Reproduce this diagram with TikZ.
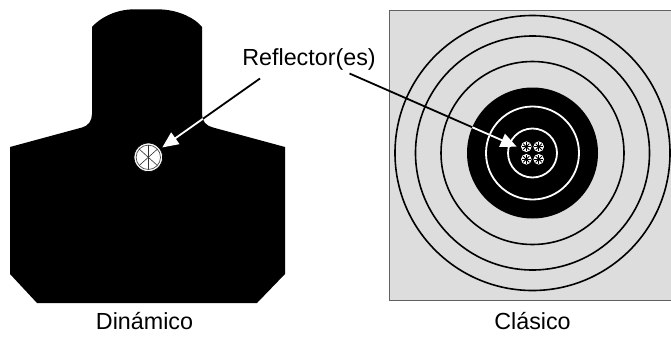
\documentclass[tikz,border=0pt]{standalone}
\usepackage{fontspec}
\setmainfont{Liberation Sans}
\usetikzlibrary{arrows.meta,calc}

\definecolor{paneGray}{gray}{0.865}
\definecolor{paneEdge}{gray}{0.38}

% outline of the dynamic (torso) target
\newcommand{\torsopath}{(92,27) .. controls (100,18) and (114,10.5) .. (130,9.5) -- (162,9.5)
  .. controls (179,10.5) and (195,18) .. (202,27) -- (202,114)
  .. controls (202,121) and (206,126) .. (213,127.5) -- (285,147) -- (285,274)
  -- (257,303) -- (37,303) -- (10,274) -- (10,147) -- (82,127.5)
  .. controls (88,126) and (92,121) .. (92,114) -- cycle}

\tikzset{
  lbl/.style={font=\fontsize{23.3}{27}\selectfont, inner sep=0pt, anchor=base},
  ptr/.style={line width=1.8pt},
  ptrhead/.style={-{Triangle[length=16pt,width=14pt]}},
  ring/.style={line width=1.6pt},
  wring/.style={line width=1.8pt, white},
}

\begin{document}
\begin{tikzpicture}[x=1pt, y=-1pt]
\useasboundingbox (0,0) rectangle (671,337);

% ---- left panel: dynamic target ----
\fill[black] \torsopath;

\node[circle, fill=white, draw=black, line width=0.7pt, minimum size=28.6pt,
      inner sep=0pt, outer sep=2.8pt] (refl) at (148.3,157.3) {};
\draw[gray!60!black, line width=0.7pt] (refl.center) circle[radius=12.2pt];
\foreach \a in {90,42,138} {
  \draw[gray!40!black, line width=0.6pt]
    ($(refl.center)+(\a:12pt)$) -- ($(refl.center)+(\a+180:12pt)$);
}

% ---- right panel: classic target ----
\fill[paneGray] (389.5,10) rectangle (671,300);
\draw[paneEdge, line width=0.9pt] (671.5,10) -- (389.5,10) -- (389.5,300) -- (671.5,300);

\coordinate (ctr) at (532.5,153);
\foreach \r in {137.5,117,91.5} {
  \draw[ring] (ctr) circle[radius=\r pt];
}
\fill[black] (ctr) circle[radius=65.5pt];
\draw[wring] (ctr) circle[radius=46.5pt];
\draw[wring] (ctr) circle[radius=24.5pt];

% four small reflectors in the centre
\foreach \dx/\dy in {-6.2/-6.3, 6.2/-6.3, -6.2/6.3, 6.2/6.3} {
  \fill[white] ($(ctr)+(\dx,\dy)$) circle[radius=5.3pt];
  \foreach \a in {0,45,90,135} {
    \draw[black, line width=0.9pt]
      ($(ctr)+(\dx,\dy)+(\a:4.4pt)$) -- ($(ctr)+(\dx,\dy)+(\a+180:4.4pt)$);
  }
}

% ---- labels ----
\node[lbl] (refllbl) at (309,65) {Reflector(es)};
\node[lbl] (dyn) at (144.5,329) {Dinámico};
\node[lbl] (cls) at (532.5,329) {Clásico};

% ---- pointers: black over light ground, white over black ground ----
\coordinate (p1) at (260,78.5);
\coordinate (p2) at (349.5,73.5);
\coordinate (t2) at (516.7,146.7);

\draw[ptr, shorten >=15pt] (p1) -- (refl);
\begin{scope}
  \clip \torsopath;
  \draw[ptr, white, ptrhead] (p1) -- (refl);
\end{scope}

\draw[ptr, shorten >=15pt] (p2) -- (t2);
\begin{scope}
  \clip (ctr) circle[radius=65.5pt];
  \draw[ptr, white, ptrhead] (p2) -- (t2);
\end{scope}
\end{tikzpicture}
\end{document}
